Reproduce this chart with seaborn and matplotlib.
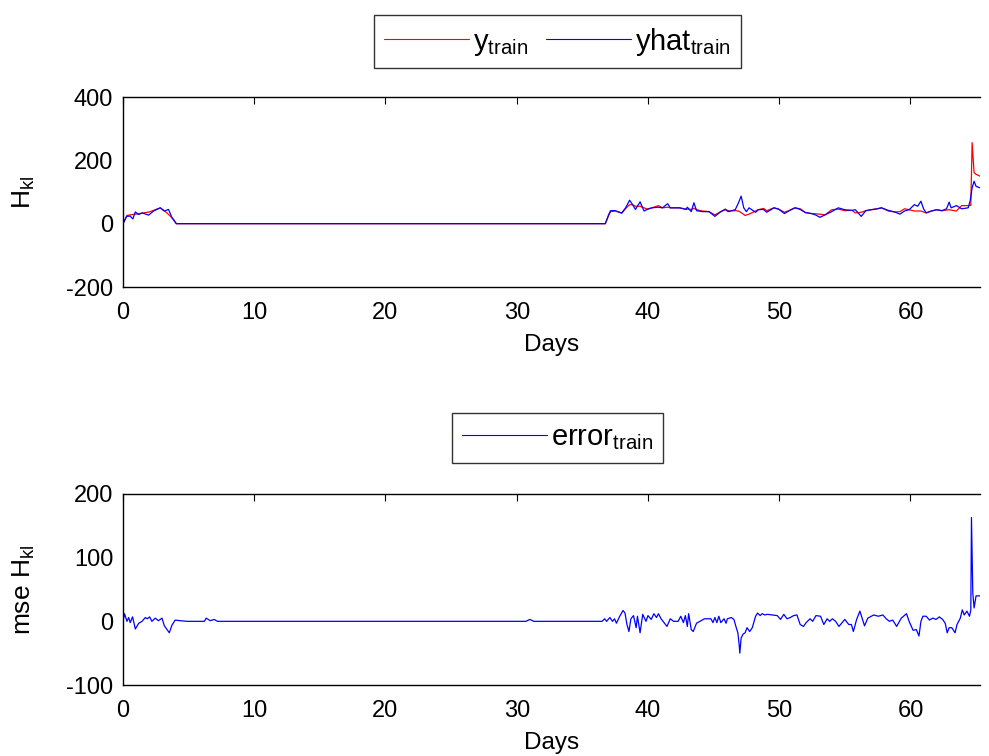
import numpy as np
import pandas as pd
import matplotlib
matplotlib.use("Agg")
import matplotlib.pyplot as plt
import seaborn as sns

# ---------------- data ----------------
days_y = [0, 0.3, 0.75, 1.3, 2.0, 2.84, 3.35, 3.86, 4.06, 36.75, 37.0, 37.15, 37.5, 38.0, 38.3,
          38.6, 38.8, 39.05, 39.4, 39.7, 39.95, 40.3, 40.8, 41.1, 41.5, 41.7, 42.4, 42.9, 43.3,
          43.5, 43.9, 44.15, 44.65, 45.1, 45.55, 45.9, 46.2, 46.65, 46.9, 47.1, 47.4, 47.7, 48.0,
          48.4, 48.8, 49.05, 49.6, 49.95, 50.4, 50.8, 51.2, 51.6, 52.0, 52.45, 52.8, 53.1, 53.5,
          54.0, 54.5, 55.0, 55.55, 55.8, 56.25, 56.6, 57.0, 57.4, 57.8, 58.3, 58.8, 59.2, 59.55,
          59.9, 60.3, 60.8, 61.2, 61.6, 62.0, 62.4, 62.95, 63.5, 63.9, 64.4, 64.6, 64.7, 64.85,
          65.0, 65.3]
y_train = [0, 26, 29, 32, 37, 50, 34, 13, 0, 0, 25, 38, 40, 33, 48,
           60, 60, 55, 55, 50, 46, 50, 57, 50, 52, 50, 50, 46, 45,
           48, 42, 40, 38, 28, 38, 44, 40, 41, 40, 35, 26, 30, 36,
           44, 48, 41, 50, 46, 36, 42, 50, 47, 35, 32, 31, 30, 28,
           44, 46, 41, 42, 34, 36, 41, 44, 47, 50, 40, 37, 38, 47,
           44, 40, 40, 34, 40, 44, 41, 44, 40, 57, 57, 58, 256, 161,
           156, 150]

days_yhat = [0, 0.28, 0.55, 0.75, 0.94, 1.19, 1.45, 1.95, 2.33, 2.84, 3.15, 3.47, 3.73, 4.06,
             36.75, 37.0, 37.15, 37.5, 38.0, 38.3, 38.6, 38.8, 39.05, 39.4, 39.7, 39.95, 40.3,
             40.8, 41.1, 41.5, 41.7, 42.4, 42.9, 43.0, 43.3, 43.5, 43.7, 44.15, 44.65, 45.1,
             45.55, 45.9, 46.1, 46.65, 46.9, 47.1, 47.3, 47.5, 47.7, 48.2, 48.4, 48.8, 49.05,
             49.6, 49.95, 50.4, 50.8, 51.2, 51.6, 52.0, 52.45, 52.8, 53.1, 53.5, 54.0, 54.5,
             55.0, 55.55, 55.8, 56.25, 56.6, 57.0, 57.4, 57.8, 58.3, 58.8, 59.2, 59.55, 59.9,
             60.3, 60.55, 60.8, 61.0, 61.2, 61.6, 62.0, 62.4, 62.75, 62.95, 63.1, 63.5, 63.9,
             64.4, 64.55, 64.7, 64.85, 65.0, 65.3]
yhat_train = [0, 23, 24, 15, 37, 29, 34, 27, 40, 50, 40, 45, 19, 0,
              0, 28, 41, 41, 34, 50, 74, 62, 45, 69, 40, 45, 50,
              52, 50, 63, 50, 50, 45, 52, 38, 66, 41, 38, 38, 23,
              38, 46, 38, 44, 66, 87, 50, 38, 50, 36, 44, 45, 36,
              50, 46, 32, 42, 50, 45, 35, 32, 27, 20, 28, 38, 50,
              44, 42, 44, 23, 41, 44, 46, 50, 42, 37, 30, 40, 44,
              60, 55, 71, 47, 34, 40, 44, 41, 47, 68, 50, 57, 47,
              50, 72, 113, 134, 118, 113]

days_err = [0, 0.12, 0.3, 0.43, 0.55, 0.73, 0.94, 1.2, 1.45, 1.7, 1.85, 2.03, 2.2, 2.46, 2.7,
            2.97, 3.15, 3.53, 3.73, 3.98, 4.35, 4.9, 6.2, 6.34, 6.65, 6.95, 7.2, 30.7, 31.0,
            31.3, 36.5, 36.7, 36.85, 37.1, 37.3, 37.45, 37.6, 37.85, 38.1, 38.25, 38.4, 38.55,
            38.7, 38.9, 39.1, 39.2, 39.4, 39.6, 39.85, 40.0, 40.25, 40.45, 40.65, 40.8, 41.0,
            41.3, 41.45, 41.7, 41.95, 42.3, 42.5, 42.7, 42.85, 43.0, 43.1, 43.3, 43.45, 43.7,
            43.95, 44.3, 44.8, 44.95, 45.1, 45.25, 45.4, 45.55, 45.8, 45.95, 46.05, 46.35,
            46.55, 46.7, 46.85, 46.95, 47.0, 47.1, 47.25, 47.4, 47.55, 47.75, 47.95, 48.2,
            48.35, 48.55, 48.7, 48.9, 49.1, 49.85, 50.1, 50.35, 50.6, 50.85, 51.1, 51.35,
            51.6, 51.85, 52.05, 52.35, 52.55, 52.8, 53.15, 53.4, 53.65, 53.85, 54.05, 54.3,
            54.55, 54.8, 55.0, 55.3, 55.5, 55.65, 55.9, 56.15, 56.35, 56.5, 56.75, 57.2,
            57.55, 57.9, 58.15, 58.4, 58.65, 58.95, 59.3, 59.7, 59.9, 60.2, 60.45, 60.65,
            60.8, 60.95, 61.2, 61.45, 61.7, 61.95, 62.2, 62.45, 62.65, 62.8, 62.95, 63.15,
            63.4, 63.55, 63.8, 63.95, 64.1, 64.3, 64.5, 64.6, 64.65, 64.75, 64.85, 65.0, 65.3]
err_train = [0, 12, 0, 6, -2, 7, -12, -3, 0, 6, 4, 7, 0, 5, 1,
             5, -7, -18, -6, 2, 1, 0, 0, 5, 1, 3, 0, 0, 3,
             0, 0, 4, 0, 6, 0, 4, -3, 8, 17, 13, -5, -16,
             4, 9, -10, 8, -18, 11, 0, 9, 3, 12, 6, 12, 4,
             -4, -8, 4, 0, 0, 8, -2, 9, -8, 12, -13, -16, -3,
             0, 4, 4, -2, 6, -2, 8, -2, 4, -3, 4, 6,
             3, -8, -18, -37, -50, -26, -20, -18, -10, -16, -10, 8,
             13, 9, 12, 10, 11, 9, 3, 11, 4, 6, 9, 10,
             -5, -8, -2, 4, 0, 9, 8, -5, 4, 0, 4, 0,
             -8, -2, 3, -5, -5, -16, 3, 16, 3, -7, 5, 10,
             8, 10, 4, 0, 2, -8, 5, 12, 0, -14, -13, -23,
             0, 8, 8, 2, 5, 3, 7, 3, -3, -18, -10, -10,
             -18, -5, 5, 18, 10, 16, 8, 18, 163, 45, 21, 40, 40]

x_ticks = [0, 10, 20, 30, 40, 50, 60]
top_yticks = [-200, 0, 200, 400]
bot_yticks = [-100, 0, 100, 200]

# ---------------- style ----------------
sns.set_theme(style="white")
plt.rcParams["font.family"] = ["Liberation Sans", "DejaVu Sans"]
plt.rcParams["mathtext.fontset"] = "custom"
plt.rcParams["mathtext.rm"] = "Liberation Sans"
plt.rcParams["mathtext.it"] = "Liberation Sans"
plt.rcParams["mathtext.default"] = "regular"
plt.rcParams["axes.unicode_minus"] = False
plt.rcParams["text.color"] = "black"
plt.rcParams["axes.labelcolor"] = "black"

W, H = 989, 756
fig = plt.figure(figsize=(W / 100, H / 100), dpi=100)
fig.patch.set_facecolor("white")

L, R = 123, 980
ax1 = fig.add_axes([L / W, 1 - 287 / H, (R - L) / W, (287 - 97) / H])
ax2 = fig.add_axes([L / W, 1 - 685 / H, (R - L) / W, (685 - 494) / H])

df_y = pd.DataFrame({"Days": days_y, "val": y_train})
df_yh = pd.DataFrame({"Days": days_yhat, "val": yhat_train})
df_e = pd.DataFrame({"Days": days_err, "val": err_train})

sns.lineplot(data=df_y, x="Days", y="val", ax=ax1, color="#ff0000", lw=0.9,
             sort=False, estimator=None, label=r"y$_{\mathrm{train}}$")
sns.lineplot(data=df_yh, x="Days", y="val", ax=ax1, color="#0000ff", lw=0.9,
             sort=False, estimator=None, label=r"yhat$_{\mathrm{train}}$")
sns.lineplot(data=df_e, x="Days", y="val", ax=ax2, color="#0000ff", lw=0.9,
             sort=False, estimator=None, label=r"error$_{\mathrm{train}}$")

for ax, yt, yl, lab in [(ax1, top_yticks, (-200, 400), r"H$_{\mathrm{kl}}$"),
                        (ax2, bot_yticks, (-100, 200), r"mse H$_{\mathrm{kl}}$")]:
    ax.set_xlim(0, 65.3)
    ax.set_ylim(*yl)
    ax.set_xticks(x_ticks)
    ax.set_yticks(yt)
    ax.set_xlabel("Days", fontsize=17.5, labelpad=7, color="black")
    ax.set_ylabel(lab, fontsize=19, labelpad=21, color="black")
    ax.tick_params(direction="in", top=True, right=False, length=5, width=0.8,
                   labelsize=17, colors="black")
    ax.tick_params(axis="x", pad=11)
    ax.tick_params(axis="y", pad=7)
    for s in ax.spines.values():
        s.set_color("black")
        s.set_linewidth(1.0)
    ax.spines["right"].set_visible(False)
    ax.set_facecolor("white")
    ax.grid(False)
    ax.get_legend().remove()

h1, l1 = ax1.get_legend_handles_labels()
leg1 = fig.legend(h1, l1, loc="center", bbox_to_anchor=(557.5 / W, 1 - 41.5 / H), ncol=2,
                  fontsize=21, frameon=True, fancybox=False, handlelength=2.9,
                  handletextpad=0.15, columnspacing=0.6, borderpad=0.35, labelcolor="black")
leg1.get_frame().set_edgecolor("black")
leg1.get_frame().set_linewidth(1.0)

h2, l2 = ax2.get_legend_handles_labels()
leg2 = fig.legend(h2, l2, loc="center", bbox_to_anchor=(557.7 / W, 1 - 438 / H), ncol=1,
                  fontsize=21, frameon=True, fancybox=False, handlelength=2.9,
                  handletextpad=0.15, borderpad=0.35, labelcolor="black")
leg2.get_frame().set_edgecolor("black")
leg2.get_frame().set_linewidth(1.0)
for leg in (leg1, leg2):
    for ln in leg.get_lines():
        ln.set_linewidth(0.8)

fig.savefig("out.png", dpi=100, facecolor="white")
